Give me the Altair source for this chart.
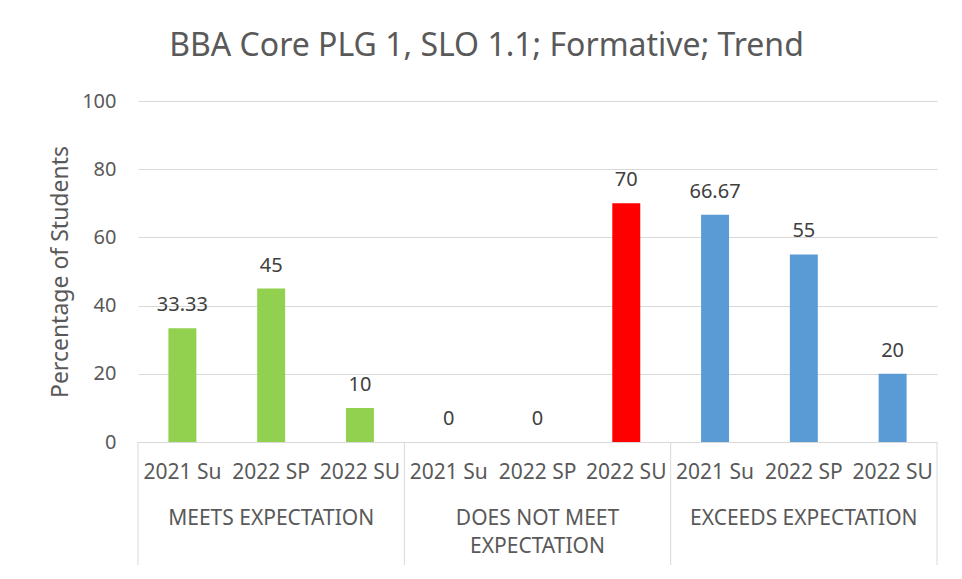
import altair as alt
import pandas as pd

# ---- data ----
groups = ["MEETS EXPECTATION", "DOES NOT MEET EXPECTATION", "EXCEEDS EXPECTATION"]
group_display = ["MEETS EXPECTATION", "DOES NOT MEET\nEXPECTATION", "EXCEEDS EXPECTATION"]
terms = ["2021 Su", "2022 SP", "2022 SU"]
meets_values = [33.33, 45, 10]
not_meet_values = [0, 0, 70]
exceeds_values = [66.67, 55, 20]
group_colors = ["#92d050", "#ff0000", "#5b9bd5"]
y_ticks = [0, 20, 40, 60, 80, 100]

series = [meets_values, not_meet_values, exceeds_values]
rows = []
for g, vals in zip(groups, series):
    for t, v in zip(terms, vals):
        rows.append({"key": f"{g}|{t}", "group": g, "term": t, "value": v})
df = pd.DataFrame(rows)
keys = list(df["key"])

first_keys = pd.DataFrame({"key": [f"{g}|{terms[0]}" for g in groups]})
last_key = pd.DataFrame({"key": [f"{groups[-1]}|{terms[-1]}"]})
group_df = pd.DataFrame({"key": [f"{g}|{terms[1]}" for g in groups], "label": group_display})

W, H = 799, 341
GRID = "#d9d9d9"
TXT = "#595959"
FONT = "Noto Sans"

x_scale = alt.Scale(domain=keys, paddingInner=0, paddingOuter=0)

x_enc = alt.X(
    "key:N", sort=keys, scale=x_scale,
    axis=alt.Axis(
        title=None, labelExpr="split(datum.label, '|')[1]", labelAngle=0,
        ticks=False, domainColor=GRID, domainWidth=1, labelPadding=19,
        labelFontSize=21, labelColor=TXT, labelOverlap=False, labelLimit=200,
    ),
)
y_enc = alt.Y(
    "value:Q", scale=alt.Scale(domain=[0, 100]),
    axis=alt.Axis(
        values=y_ticks, grid=True, gridColor=GRID, domain=False, ticks=False,
        labelPadding=22, labelFontSize=20, labelColor=TXT,
        title="Percentage of Students", titleFontSize=23, titleFontWeight="normal",
        titleColor=TXT, titleX=-78, titleY=H / 2, titleBaseline="middle",
    ),
)

bars = alt.Chart(df).mark_bar(width=alt.RelativeBandSize(0.315)).encode(
    x=x_enc, y=y_enc,
    color=alt.Color("group:N", scale=alt.Scale(domain=groups, range=group_colors), legend=None),
)

labels = alt.Chart(df).mark_text(
    baseline="alphabetic", dy=-17, fontSize=20, color="#404040", font=FONT
).encode(
    x=alt.X("key:N", sort=keys, scale=x_scale),
    y=alt.Y("value:Q"),
    text=alt.Text("value:Q", format=".2~f"),
)

sep_first = alt.Chart(first_keys).mark_rule(color=GRID, strokeWidth=1).encode(
    x=alt.X("key:N", sort=keys, scale=x_scale, bandPosition=0),
    y=alt.value(H), y2=alt.value(H + 123),
)
sep_last = alt.Chart(last_key).mark_rule(color=GRID, strokeWidth=1).encode(
    x=alt.X("key:N", sort=keys, scale=x_scale, bandPosition=1),
    y=alt.value(H), y2=alt.value(H + 123),
)

group_labels = alt.Chart(group_df).mark_text(
    baseline="top", fontSize=21, color=TXT, font=FONT, lineBreak="\n", lineHeight=28
).encode(
    x=alt.X("key:N", sort=keys, scale=x_scale, bandPosition=0.5),
    y=alt.value(H + 66),
    text="label:N",
)

chart = alt.layer(bars, labels, sep_first, sep_last, group_labels).properties(
    width=W, height=H,
    autosize=alt.AutoSizeParams(type="none"),
    padding={"left": 130, "top": 93, "right": 17, "bottom": 129},
    title=alt.TitleParams(
        "BBA Core PLG 1, SLO 1.1; Formative; Trend",
        fontSize=32, color=TXT, fontWeight="normal", anchor="middle",
        dx=-51, offset=28, font=FONT,
    ),
).configure(font=FONT).configure_view(stroke=None).configure_axis(labelFont=FONT, titleFont=FONT)

chart.save("out.html", embed_options={"renderer": "svg", "actions": False})
